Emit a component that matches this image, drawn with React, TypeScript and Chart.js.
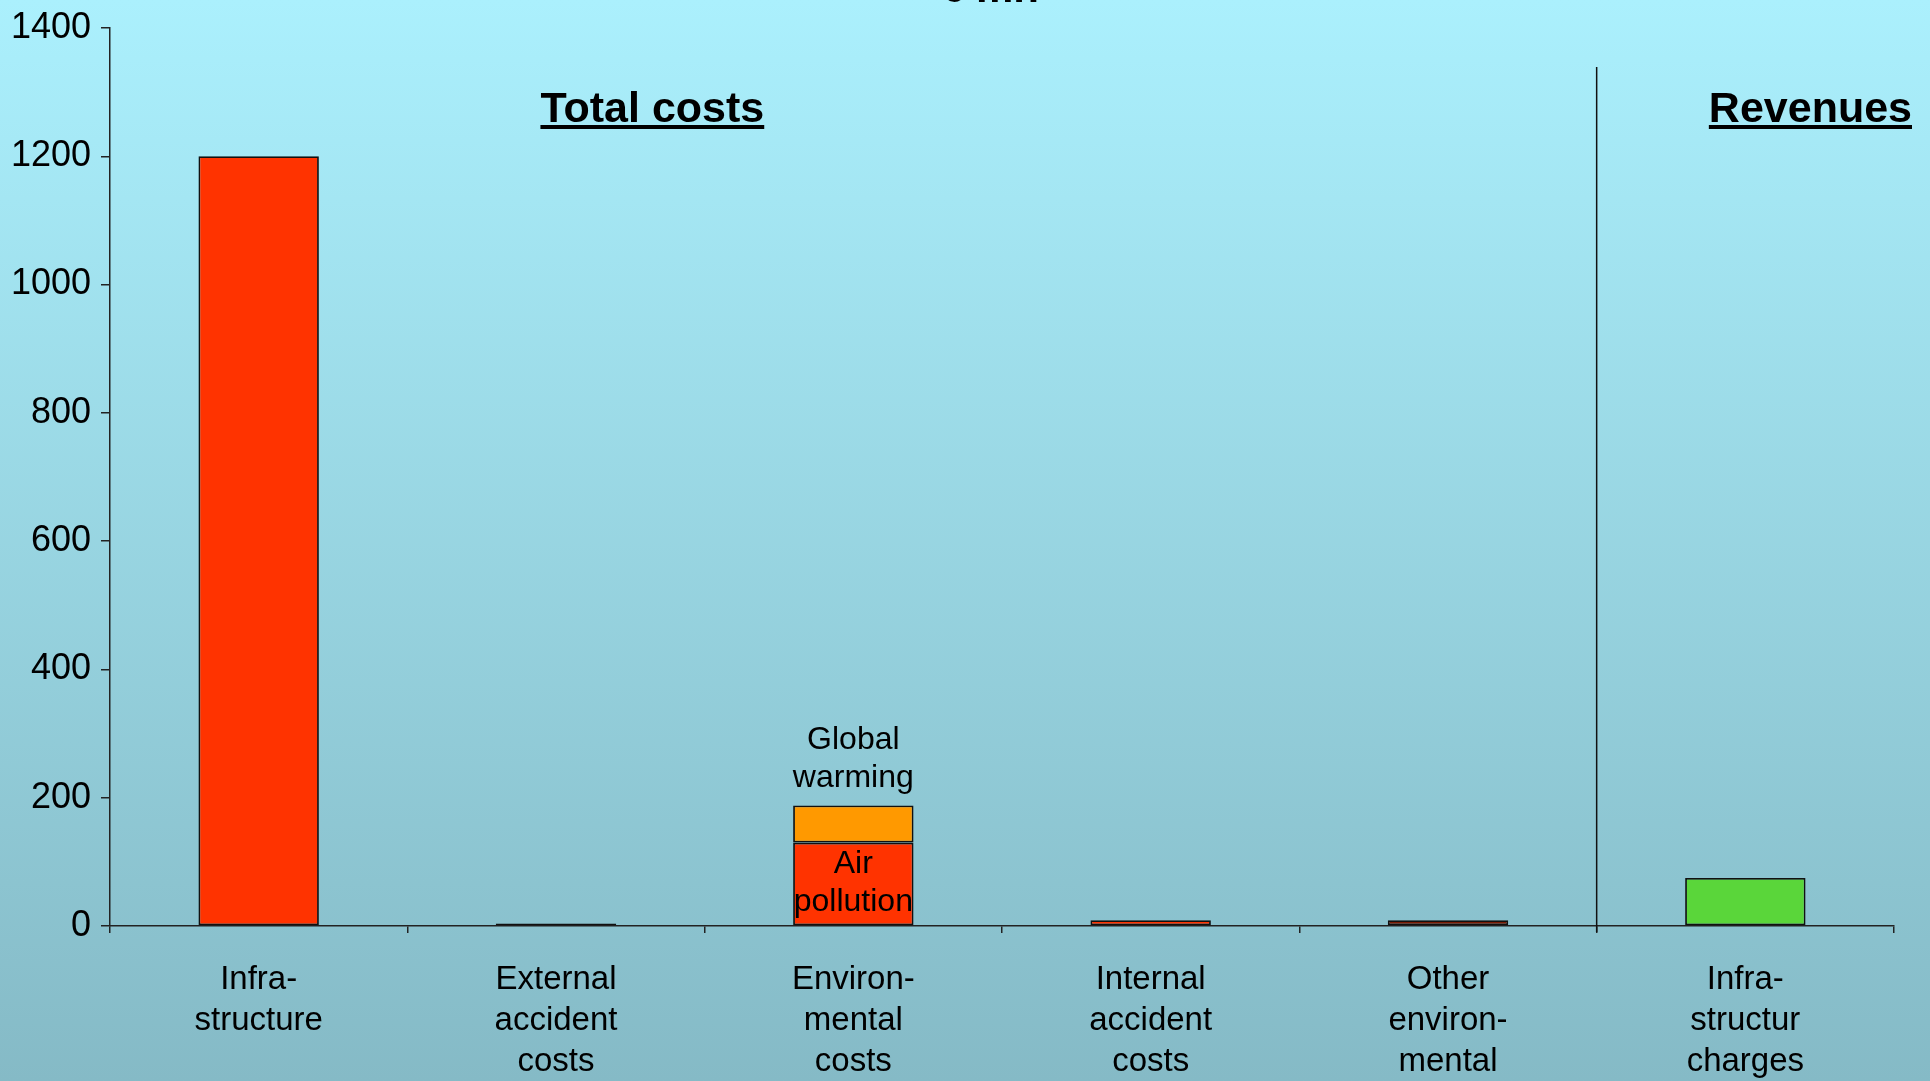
import React, { useEffect, useRef } from "react";
import { Chart, registerables } from "chart.js";

Chart.register(...registerables);

const FONT = "'Liberation Sans', Arial, Helvetica, sans-serif";

// Category labels (multi-line)
const categories: string[][] = [
  ["Infra-", "structure"],
  ["External", "accident", "costs"],
  ["Environ-", "mental", "costs"],
  ["Internal", "accident", "costs"],
  ["Other", "environ-", "mental"],
  ["Infra-", "structur", "charges"],
];

// Cost components (bottom of stack)
const baseCosts: (number | null)[] = [1200, 4, 130, 9, 9, null];
const baseCostColors: string[] = ["#ff3300", "#ff3300", "#ff3300", "#ff3300", "#7a1c05", "#ff3300"];
// Global warming part of environmental costs (stacked on top of air pollution)
const globalWarming: (number | null)[] = [null, null, 58, null, null, null];
// Revenues
const revenues: (number | null)[] = [null, null, null, null, null, 75];

const yTicks = { min: 0, max: 1400, step: 200 };

const headerText = "€ mn";
const costsHeading = "Total costs";
const revenueHeading = "Revenues";
const airLabel = ["Air", "pollution"];
const warmingLabel = ["Global", "warming"];

const decorPlugin = {
  id: "decor",
  beforeDraw(chart: any) {
    const { ctx, width, height } = chart;
    ctx.save();
    const g = ctx.createLinearGradient(0, 0, 0, height);
    g.addColorStop(0, "#abf0fd");
    g.addColorStop(1, "#85bac6");
    ctx.fillStyle = g;
    ctx.fillRect(0, 0, width, height);
    ctx.restore();
  },
  afterDraw(chart: any) {
    const { ctx, chartArea, scales } = chart;
    const xs = scales.x;
    const ys = scales.y;
    ctx.save();

    // header, mostly above the top edge
    ctx.fillStyle = "#000";
    ctx.font = `bold 42px ${FONT}`;
    ctx.textAlign = "center";
    ctx.textBaseline = "alphabetic";
    ctx.fillText(headerText, 990, 2);

    // separator between costs and revenues
    const sepX = (xs.getPixelForValue(4) + xs.getPixelForValue(5)) / 2;
    ctx.strokeStyle = "#111";
    ctx.lineWidth = 1.5;
    ctx.beginPath();
    ctx.moveTo(sepX, 67);
    ctx.lineTo(sepX, chartArea.bottom + 6);
    ctx.stroke();

    // underlined headings
    const drawHeading = (text: string, x: number, align: "center" | "right") => {
      ctx.font = `bold 43px ${FONT}`;
      ctx.textAlign = align;
      ctx.textBaseline = "alphabetic";
      ctx.fillStyle = "#000";
      const base = 122;
      ctx.fillText(text, x, base);
      const w = ctx.measureText(text).width;
      const x0 = align === "center" ? x - w / 2 : x - w;
      ctx.fillRect(x0, base + 3, w, 4);
    };
    drawHeading(costsHeading, chartArea.left + chartArea.width * 0.304, "center");
    drawHeading(revenueHeading, chartArea.right + 18, "right");

    // labels on the environmental costs bar
    const cx = xs.getPixelForValue(2);
    const air = baseCosts[2] as number;
    const gw = globalWarming[2] as number;
    ctx.font = `32px ${FONT}`;
    ctx.textAlign = "center";
    ctx.textBaseline = "alphabetic";
    const airMid = (ys.getPixelForValue(0) + ys.getPixelForValue(air)) / 2;
    ctx.fillText(airLabel[0], cx, airMid - 11);
    ctx.fillText(airLabel[1], cx, airMid + 27);
    const top = ys.getPixelForValue(air + gw);
    ctx.fillText(warmingLabel[1], cx, top - 18);
    ctx.fillText(warmingLabel[0], cx, top - 56);

    ctx.restore();
  },
};

export default function App() {
  const ref = useRef<HTMLCanvasElement | null>(null);

  useEffect(() => {
    document.body.style.margin = "0";
    document.body.style.overflow = "hidden";
    if (!ref.current) return;
    const barStyle = {
      borderColor: "#111",
      borderWidth: 1.8,
      borderSkipped: false as const,
      categoryPercentage: 1,
      barPercentage: 0.405,
    };
    const chart = new Chart(ref.current, {
      type: "bar",
      data: {
        labels: categories,
        datasets: [
          { label: "Costs", data: baseCosts, backgroundColor: baseCostColors, ...barStyle },
          { label: "Global warming", data: globalWarming, backgroundColor: "#ff9900", ...barStyle },
          { label: "Revenues", data: revenues, backgroundColor: "#5ad63a", ...barStyle },
        ],
      },
      options: {
        animation: false,
        responsive: false,
        maintainAspectRatio: false,
        layout: { padding: { top: 24, right: 36, bottom: 0, left: 0 } },
        plugins: { legend: { display: false }, tooltip: { enabled: false }, title: { display: false } },
        scales: {
          x: {
            stacked: true,
            grid: { display: true, drawOnChartArea: false, drawTicks: true, tickLength: 7, color: "#222", lineWidth: 1.5 },
            border: { display: true, color: "#222", width: 1.5 },
            ticks: {
              color: "#000",
              font: { size: 33, family: FONT, lineHeight: 1.25 },
              maxRotation: 0,
              minRotation: 0,
              autoSkip: false,
              padding: 26,
            },
            afterFit: (s: any) => {
              s.height = 155;
            },
          },
          y: {
            stacked: true,
            min: yTicks.min,
            max: yTicks.max,
            grid: { display: true, drawOnChartArea: false, drawTicks: true, tickLength: 9, color: "#222", lineWidth: 1.5 },
            border: { display: true, color: "#222", width: 1.5 },
            ticks: {
              stepSize: yTicks.step,
              color: "#000",
              font: { size: 36, family: FONT, lineHeight: 1 },
              padding: 10,
              callback: (v: any) => String(v),
            },
            afterFit: (s: any) => {
              s.width = 110;
            },
          },
        },
      },
      plugins: [decorPlugin],
    });
    return () => chart.destroy();
  }, []);

  return (
    <div style={{ width: 1930, height: 1081, overflow: "hidden" }}>
      <canvas ref={ref} width={1930} height={1081} style={{ display: "block" }} />
    </div>
  );
}
